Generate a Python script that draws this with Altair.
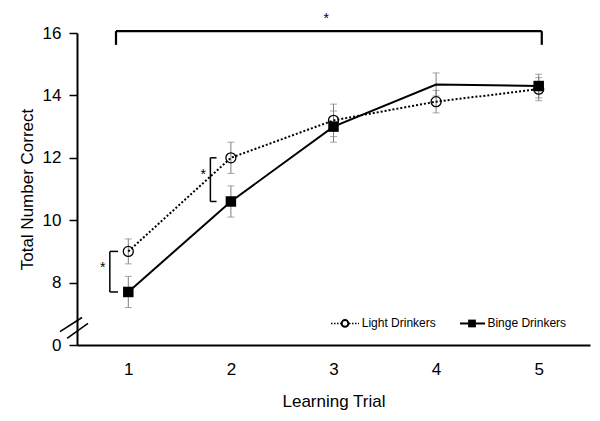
import altair as alt
import pandas as pd

# ---- data ----
trials = [1, 2, 3, 4, 5]
light_mean = [9.0, 12.0, 13.2, 13.8, 14.2]
light_err = [0.4, 0.5, 0.52, 0.36, 0.37]
binge_mean = [7.7, 10.6, 13.0, 14.35, 14.3]
binge_err = [0.5, 0.5, 0.5, 0.37, 0.38]
binge_marker = [True, True, True, False, True]

y_ticks = [6, 8, 10, 12, 14, 16]   # 6 is shown as "0" (broken axis)

# annotation geometry (data units)
br_x1 = [0.82, 1.80, 0.88]
br_x2 = [0.90, 1.86, 5.03]
br_ytop = [9.0, 12.0, 16.06]
br_ybot = [7.7, 10.6, 15.62]
star_x = [0.75, 1.73, 2.93]
star_y = [8.48, 11.46, 16.45]
brk_x1 = [0.334, 0.403]
brk_y1 = [6.43, 6.21]
brk_x2 = [0.549, 0.607]
brk_y2 = [6.88, 6.69]
leg_names = ["Light Drinkers", "Binge Drinkers"]
leg_line_x1 = [2.976, 4.233]
leg_line_x2 = [3.249, 4.477]
leg_mark_x = [3.112, 4.35]
leg_text_x = [3.275, 4.50]
leg_y = 6.69

FONT = "Liberation Sans"

light = pd.DataFrame({"trial": trials, "mean": light_mean,
                      "lo": [m - e for m, e in zip(light_mean, light_err)],
                      "hi": [m + e for m, e in zip(light_mean, light_err)]})
binge = pd.DataFrame({"trial": trials, "mean": binge_mean,
                      "lo": [m - e for m, e in zip(binge_mean, binge_err)],
                      "hi": [m + e for m, e in zip(binge_mean, binge_err)],
                      "marker": binge_marker})
errs = pd.concat([light, binge[["trial", "mean", "lo", "hi"]]], ignore_index=True)

xs = alt.Scale(domain=[0.5, 5.5], nice=False, zero=False)
ys = alt.Scale(domain=[6, 16], nice=False, zero=False)

x_axis = alt.Axis(values=trials, format="d", ticks=False, tickSize=0, labelPadding=16,
                  title="Learning Trial", titleY=61, titleBaseline="alphabetic",
                  domainWidth=2, domainColor="black", grid=False,
                  labelFontSize=17, titleFontSize=17, labelFont=FONT, titleFont=FONT,
                  titleFontWeight="normal", labelColor="black", titleColor="black")
y_axis = alt.Axis(values=y_ticks, labelExpr="datum.value == 6 ? '0' : datum.label",
                  tickSize=8, tickWidth=1.5, tickColor="black", labelPadding=8,
                  title="Total Number Correct", titleX=-50, titleBaseline="middle",
                  domainWidth=2, domainColor="black", grid=False,
                  labelFontSize=17, titleFontSize=17, labelFont=FONT, titleFont=FONT,
                  titleFontWeight="normal", labelColor="black", titleColor="black")

GRAY = "#808080"


def X(f):
    return alt.X(f, scale=xs)


def Y(f):
    return alt.Y(f, scale=ys)


err_rule = alt.Chart(errs).mark_rule(color=GRAY, strokeWidth=1).encode(
    x=alt.X("trial:Q", scale=xs, axis=x_axis),
    y=alt.Y("lo:Q", scale=ys, axis=y_axis),
    y2="hi:Q")
cap_lo = alt.Chart(errs).mark_tick(orient="horizontal", size=7, thickness=1, color=GRAY).encode(
    x=X("trial:Q"), y=Y("lo:Q"))
cap_hi = alt.Chart(errs).mark_tick(orient="horizontal", size=7, thickness=1, color=GRAY).encode(
    x=X("trial:Q"), y=Y("hi:Q"))

light_line = alt.Chart(light).mark_line(color="black", strokeWidth=2, strokeDash=[2, 2]).encode(
    x=X("trial:Q"), y=Y("mean:Q"))
binge_line = alt.Chart(binge).mark_line(color="black", strokeWidth=2).encode(
    x=X("trial:Q"), y=Y("mean:Q"))
light_pts = alt.Chart(light).mark_point(shape="circle", filled=False, size=100, color="black",
                                        strokeWidth=1.3, opacity=1).encode(
    x=X("trial:Q"), y=Y("mean:Q"))
binge_pts = alt.Chart(binge).transform_filter("datum.marker").mark_square(
    size=110, color="black", opacity=1).encode(
    x=X("trial:Q"), y=Y("mean:Q"))

# significance brackets
br = pd.DataFrame({"x1": br_x1, "x2": br_x2, "yt": br_ytop, "yb": br_ybot})
small = br.iloc[:2]
br_vert_small = alt.Chart(small).mark_rule(color="black", strokeWidth=1.5).encode(
    x=X("x1:Q"), y=Y("yt:Q"), y2="yb:Q")
br_arm_top = alt.Chart(small).mark_rule(color="black", strokeWidth=1.5).encode(
    x=X("x1:Q"), x2="x2:Q", y=Y("yt:Q"))
br_arm_bot = alt.Chart(small).mark_rule(color="black", strokeWidth=1.5).encode(
    x=X("x1:Q"), x2="x2:Q", y=Y("yb:Q"))
big = br.iloc[2:]
big_h = alt.Chart(big).mark_rule(color="black", strokeWidth=2.2).encode(
    x=X("x1:Q"), x2="x2:Q", y=Y("yt:Q"))
big_l = alt.Chart(big).mark_rule(color="black", strokeWidth=2.2).encode(
    x=X("x1:Q"), y=Y("yt:Q"), y2="yb:Q")
big_r = alt.Chart(big).mark_rule(color="black", strokeWidth=2.2).encode(
    x=X("x2:Q"), y=Y("yt:Q"), y2="yb:Q")

stars = pd.DataFrame({"x": star_x, "y": star_y, "t": ["*", "*", "*"]})
star_txt = alt.Chart(stars).mark_text(font=FONT, fontSize=14, color="black",
                                      baseline="middle", align="center").encode(
    x=X("x:Q"), y=Y("y:Q"), text="t:N")

# axis break marks
brk = pd.DataFrame({"x1": brk_x1, "y1": brk_y1, "x2": brk_x2, "y2": brk_y2})
brk_lines = alt.Chart(brk).mark_rule(color="black", strokeWidth=1.6).encode(
    x=X("x1:Q"), y=Y("y1:Q"), x2="x2:Q", y2="y2:Q")

# legend
leg = pd.DataFrame({"name": leg_names, "lx1": leg_line_x1, "lx2": leg_line_x2,
                    "mx": leg_mark_x, "tx": leg_text_x, "y": [leg_y, leg_y]})
leg_l_line = alt.Chart(leg.iloc[:1]).mark_rule(color="black", strokeWidth=1.5, strokeDash=[1.5, 1.5]).encode(
    x=X("lx1:Q"), x2="lx2:Q", y=Y("y:Q"))
leg_b_line = alt.Chart(leg.iloc[1:]).mark_rule(color="black", strokeWidth=2).encode(
    x=X("lx1:Q"), x2="lx2:Q", y=Y("y:Q"))
leg_l_pt = alt.Chart(leg.iloc[:1]).mark_point(shape="circle", filled=True, fill="white", stroke="black",
                                              size=45, strokeWidth=2, opacity=1).encode(
    x=X("mx:Q"), y=Y("y:Q"))
leg_b_pt = alt.Chart(leg.iloc[1:]).mark_square(size=60, color="black", opacity=1).encode(
    x=X("mx:Q"), y=Y("y:Q"))
leg_txt = alt.Chart(leg).mark_text(font=FONT, fontSize=12, color="black", align="left",
                                   baseline="middle").encode(
    x=X("tx:Q"), y=Y("y:Q"), text="name:N")

chart = alt.layer(
    err_rule, cap_lo, cap_hi, light_line, binge_line, light_pts, binge_pts,
    br_vert_small, br_arm_top, br_arm_bot, big_h, big_l, big_r, star_txt, brk_lines,
    leg_l_line, leg_b_line, leg_l_pt, leg_b_pt, leg_txt
).properties(
    width=513, height=312,
    autosize=alt.AutoSizeParams(type="none"),
    padding={"left": 69, "top": 25, "right": 2, "bottom": 66},
).configure(background="white").configure_view(stroke=None)

chart.save("out.html", embed_options={"renderer": "svg", "actions": False})
